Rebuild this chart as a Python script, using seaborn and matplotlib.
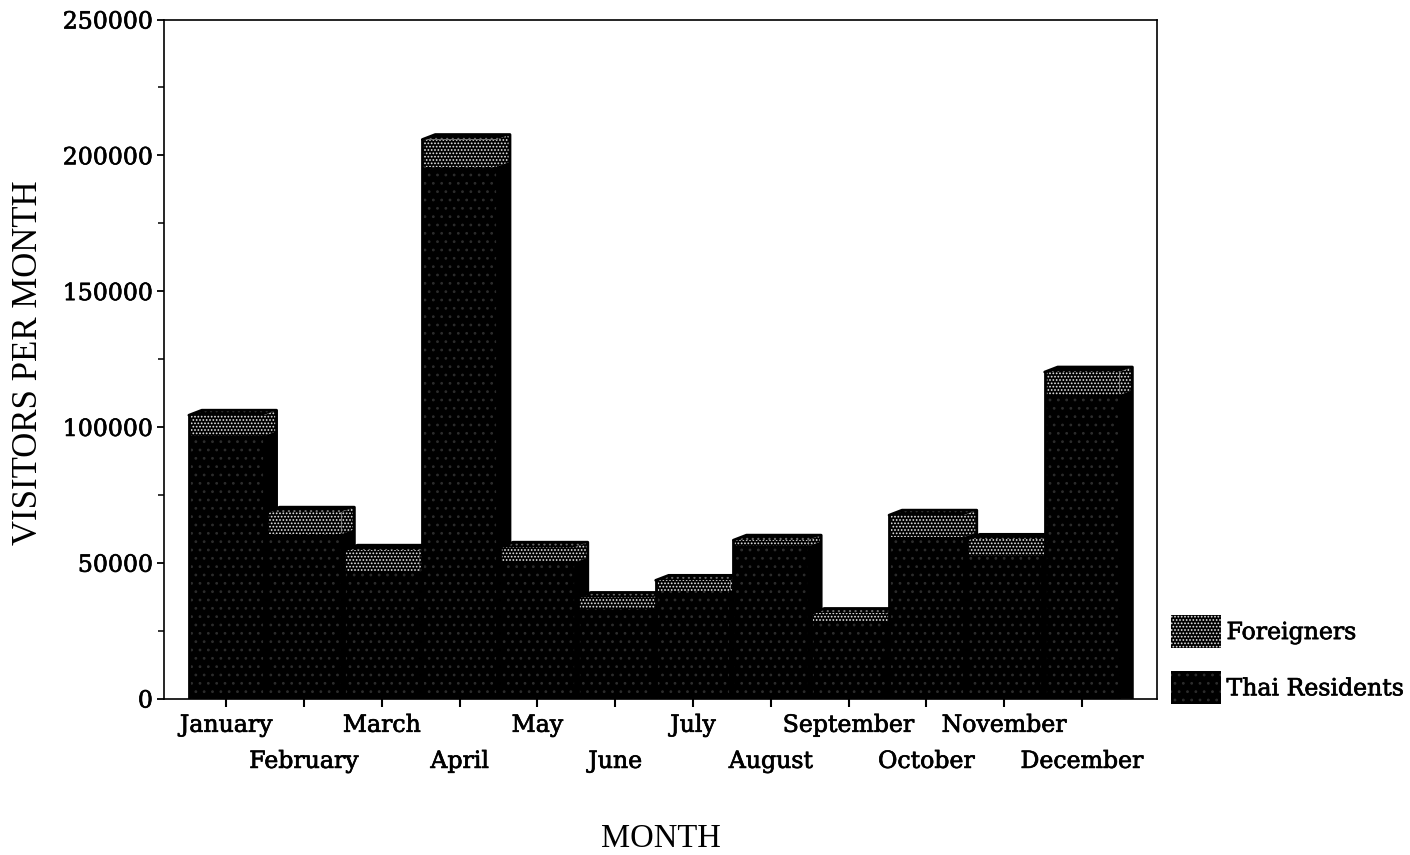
import matplotlib
matplotlib.use("Agg")
import matplotlib.pyplot as plt
from matplotlib.patches import Polygon, Patch
import matplotlib.patheffects as pe
import seaborn as sns

months = ["January", "February", "March", "April", "May", "June", "July",
          "August", "September", "October", "November", "December"]
thai = [96600, 60500, 46500, 195800, 50100, 32800, 39500, 56000, 28000, 59400, 52400, 111700]
foreigners = [7700, 8100, 8100, 10000, 5600, 4400, 4000, 2300, 3300, 8100, 6200, 8500]
y_major = [0, 50000, 100000, 150000, 200000, 250000]
y_minor = [25000, 75000, 125000, 175000, 225000]

W, H = 1410, 855
sns.set_style("ticks")
TICK_FONT = "DejaVu Serif"
TITLE_FONT = "Liberation Serif"
plt.rcParams["hatch.linewidth"] = 0.8

fig = plt.figure(figsize=(W / 100, H / 100), dpi=100)
L, R, T, B = 164, 1157, 19.5, 698.5
ax = fig.add_axes([L / W, 1 - B / H, (R - L) / W, (B - T) / H])

BAR_W = 0.96
FG_FACE, FG_HATCH, FG_PATTERN = "#000000", "#e6e6e6", "....."
TH_FACE, TH_HATCH, TH_PATTERN = "#000000", "#2c2c2c", ".."

sns.barplot(x=months, y=thai, order=months, color=TH_FACE, saturation=1, width=BAR_W,
            linewidth=0, ax=ax)
n0 = len(ax.patches)
sns.barplot(x=months, y=foreigners, bottom=thai, order=months, color=FG_FACE, saturation=1,
            width=BAR_W, linewidth=0, ax=ax)

px_x = 77.8
px_y = (B - T) / y_major[-1]
x0 = -0.003 + (L - 226) / px_x
ax.set_xlim(x0, x0 + (R - L) / px_x)
ax.set_ylim(y_major[0], y_major[-1])
dx = 13 / px_x
dy = 5 / px_y

patches = list(ax.patches)
for i, (th, fo) in enumerate(zip(thai, foreigners)):
    z = 3 + i * 0.1
    pt, pf = patches[i], patches[n0 + i]
    pt.set(zorder=z + 0.02, hatch=TH_PATTERN, edgecolor=TH_HATCH, linewidth=0)
    pf.set(zorder=z + 0.03, hatch=FG_PATTERN, edgecolor=FG_HATCH, linewidth=0)
    xr = i + BAR_W / 2
    xl = i - BAR_W / 2
    tot = th + fo
    # Depth faces derived from each month's values
    ax.add_patch(Polygon([(xr, 0), (xr + dx, 0), (xr + dx, th + dy), (xr, th)],
                         facecolor=TH_FACE, edgecolor=TH_FACE, lw=0.5, zorder=z))
    ax.add_patch(Polygon([(xr, th), (xr + dx, th + dy), (xr + dx, tot + dy), (xr, tot)],
                         facecolor=FG_FACE, edgecolor=FG_HATCH, hatch=FG_PATTERN, lw=0, zorder=z + 0.01))
    ax.add_patch(Polygon([(xl, tot), (xl + dx, tot + dy), (xr + dx, tot + dy), (xr, tot)],
                         facecolor="#000000", edgecolor="#6a6a6a", hatch="...", lw=0, zorder=z + 0.01))
    ax.plot([xl, xl + dx, xr + dx, xr + dx], [tot, tot + dy, tot + dy, 0], color="black",
            lw=2.0, zorder=z + 0.04, solid_joinstyle="round")
    ax.plot([xl, xl], [0, tot], color="black", lw=2.0, zorder=z + 0.04)
    ax.plot([xr, xr], [0, th], color="black", lw=2.0, zorder=z + 0.04)

for s in ["top", "right", "left", "bottom"]:
    ax.spines[s].set_visible(True)
    ax.spines[s].set_linewidth(1.2)
    ax.spines[s].set_color("black")
    ax.spines[s].set_zorder(5)

thick = [pe.withStroke(linewidth=0.5, foreground="black")]
ax.set_yticks(y_major)
ax.set_yticks(y_minor, minor=True)
ax.set_yticklabels([str(v) for v in y_major], fontfamily=TICK_FONT, fontsize=17, color="black",
                   path_effects=thick)
ax.tick_params(axis="y", which="major", length=5, width=1.3, pad=3, color="black")
ax.tick_params(axis="y", which="minor", length=4, width=1.1, color="black")
ax.set_xticks(range(len(months)))
ax.set_xticklabels(months, fontfamily=TICK_FONT, fontsize=17, color="black", path_effects=thick)
ax.tick_params(axis="x", which="major", length=6, width=1.5, color="black")
for i, tick in enumerate(ax.xaxis.get_major_ticks()):
    tick.set_pad(5 if i % 2 == 0 else 31)

ax.set_xlabel("MONTH", fontfamily=TITLE_FONT, fontsize=23.5, color="black", va="center")
ax.xaxis.set_label_coords(0.5, -(839 - B) / (B - T))
ax.set_ylabel("VISITORS PER MONTH", fontfamily=TITLE_FONT, fontsize=25, color="black", va="center")
ax.yaxis.set_label_coords((29 - L) / (R - L), (B - 363) / (B - T))

handles = [Patch(facecolor=FG_FACE, edgecolor=FG_HATCH, hatch=FG_PATTERN, linewidth=0),
           Patch(facecolor=TH_FACE, edgecolor=TH_HATCH, hatch=TH_PATTERN, linewidth=0)]
leg = fig.legend(handles, ["Foreigners", "Thai Residents"], loc="lower left",
                 bbox_to_anchor=(1171 / W, 1 - 704 / H), frameon=False, borderpad=0, borderaxespad=0,
                 handlelength=2.1, handleheight=1.75, labelspacing=1.0, handletextpad=0.25,
                 labelcolor="black", prop={"family": TICK_FONT, "size": 17})
for t in leg.get_texts():
    t.set_path_effects(thick)

fig.savefig("out.png", dpi=100, facecolor="white")
